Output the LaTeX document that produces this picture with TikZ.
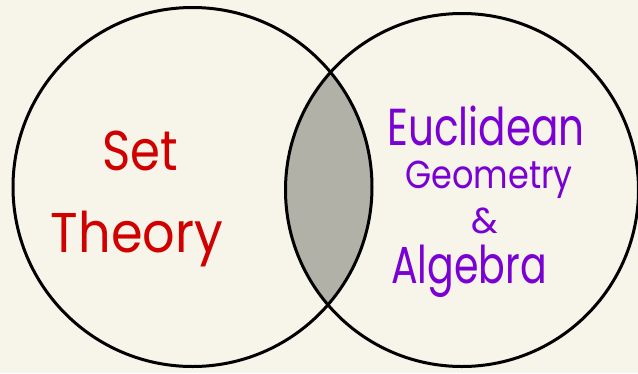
\documentclass[tikz,border=0pt]{standalone}
\usepackage{fontspec}
\newfontfamily\handfont{Poppins}
\definecolor{bgc}{HTML}{F7F5E9}
\definecolor{lensc}{HTML}{B1B1A7}
\definecolor{setred}{HTML}{D10000}
\definecolor{eucpurple}{HTML}{7A00D4}
\begin{document}
\begin{tikzpicture}[x=1pt,y=-1pt,
  ring/.style={draw=black,line width=3pt},
  redtxt/.style={text=setred,inner sep=0pt,anchor=base},
  purtxt/.style={text=eucpurple,inner sep=0pt,anchor=base}]
\fill[bgc] (0,0) rectangle (638,373);
\useasboundingbox (0,0) rectangle (638,373);
\coordinate (cl) at (192.5,187);
\coordinate (cr) at (462,190);
\begin{scope}
  \clip (cl) circle[radius=179.5];
  \fill[lensc] (cr) circle[radius=176.5];
\end{scope}
\draw[ring] (cl) circle[radius=179.5];
\draw[ring] (cr) circle[radius=176.5];
\node[redtxt,xscale=0.86,font=\handfont\fontsize{56}{60}\selectfont] (set) at (140,170) {Set};
\node[redtxt,xscale=0.91,font=\handfont\fontsize{56}{60}\selectfont] (theory) at (137,252) {Theory};
\node[purtxt,xscale=0.78,font=\handfont\fontsize{52}{56}\selectfont] (euc) at (486,145) {Euclidean};
\node[purtxt,xscale=0.86,font=\handfont\fontsize{39}{42}\selectfont] (geo) at (489,188) {Geometry};
\node[purtxt,font=\handfont\fontsize{36}{40}\selectfont] (amp) at (485,233) {\&};
\node[purtxt,xscale=0.76,font=\handfont\fontsize{52}{56}\selectfont] (alg) at (469,283) {Algebra};
\end{tikzpicture}
\end{document}
